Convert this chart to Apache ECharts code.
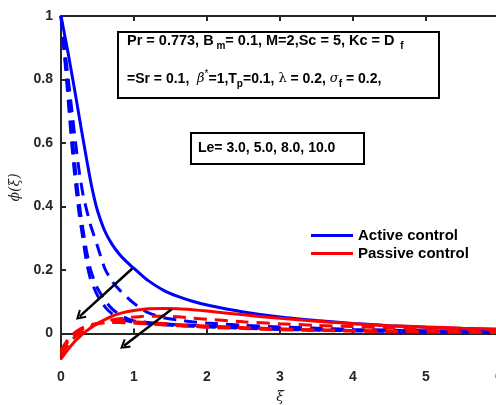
<!DOCTYPE html>
<html>
<head>
<meta charset="utf-8">
<script src="https://cdn.jsdelivr.net/npm/echarts@6.0.0/dist/echarts.min.js"></script>
<style>
  html, body { margin: 0; padding: 0; background: #fff; }
  #main { width: 496px; height: 405px; }
</style>
</head>
<body>
<div id="main"></div>
<script>
// eta grid shared by all curves
var xs = [0, 0.05, 0.1, 0.15, 0.2, 0.25, 0.3, 0.35, 0.4, 0.45, 0.5, 0.6, 0.7, 0.8, 0.9, 1.0, 1.1, 1.2, 1.4, 1.6, 1.8, 2.0, 2.5, 3.0, 3.5, 4.0, 4.5, 5.0, 5.5, 6.0];

// active control, Le = 3 (solid), 5, 8, 10 (dashed)
var activeLe3  = [1, 0.94, 0.88, 0.815, 0.75, 0.682, 0.615, 0.55, 0.487, 0.432, 0.387, 0.323, 0.281, 0.25, 0.226, 0.205, 0.185, 0.166, 0.137, 0.117, 0.102, 0.09, 0.068, 0.052, 0.041, 0.032, 0.025, 0.02, 0.016, 0.013];
var activeLe5  = [1, 0.9, 0.8, 0.7, 0.6, 0.51, 0.44, 0.39, 0.345, 0.31, 0.275, 0.205, 0.165, 0.138, 0.115, 0.095, 0.078, 0.065, 0.05, 0.043, 0.037, 0.033, 0.026, 0.021, 0.017, 0.013, 0.011, 0.009, 0.007, 0.006];
var activeLe8  = [1, 0.88, 0.76, 0.63, 0.51, 0.41, 0.33, 0.26, 0.205, 0.17, 0.143, 0.105, 0.078, 0.06, 0.048, 0.04, 0.037, 0.035, 0.031, 0.028, 0.026, 0.024, 0.019, 0.015, 0.012, 0.01, 0.008, 0.006, 0.005, 0.004];
var activeLe10 = [1, 0.87, 0.73, 0.59, 0.47, 0.375, 0.3, 0.225, 0.175, 0.145, 0.12, 0.085, 0.062, 0.048, 0.04, 0.035, 0.033, 0.031, 0.028, 0.025, 0.023, 0.021, 0.017, 0.013, 0.011, 0.009, 0.007, 0.005, 0.004, 0.003];

// passive control
var passiveLe3  = [-0.08, -0.064, -0.049, -0.035, -0.022, -0.011, 0.0, 0.009, 0.017, 0.025, 0.032, 0.044, 0.055, 0.063, 0.069, 0.073, 0.076, 0.078, 0.079, 0.078, 0.075, 0.071, 0.059, 0.048, 0.039, 0.031, 0.025, 0.021, 0.017, 0.014];
var passiveLe5  = [-0.07, -0.05, -0.034, -0.02, -0.009, 0.0, 0.008, 0.015, 0.021, 0.026, 0.031, 0.038, 0.043, 0.047, 0.05, 0.052, 0.054, 0.055, 0.055, 0.053, 0.049, 0.045, 0.037, 0.031, 0.026, 0.022, 0.018, 0.015, 0.013, 0.011];
var passiveLe8  = [-0.06, -0.04, -0.024, -0.011, 0.0, 0.008, 0.015, 0.02, 0.025, 0.028, 0.031, 0.035, 0.037, 0.038, 0.038, 0.037, 0.036, 0.035, 0.032, 0.029, 0.026, 0.024, 0.019, 0.015, 0.012, 0.01, 0.008, 0.006, 0.005, 0.004];
var passiveLe10 = [-0.055, -0.034, -0.017, -0.005, 0.005, 0.013, 0.019, 0.024, 0.027, 0.03, 0.032, 0.034, 0.035, 0.035, 0.034, 0.033, 0.032, 0.03, 0.028, 0.025, 0.023, 0.02, 0.016, 0.012, 0.01, 0.008, 0.006, 0.005, 0.004, 0.003];

var xTicks = [0, 1, 2, 3, 4, 5, 6];
var yTicks = [0, 0.2, 0.4, 0.6, 0.8, 1];

// arrows (data coords): start -> end
var arrow1 = [[0.977, 0.205], [0.256, 0.054]];
var arrow2 = [[1.516, 0.077], [0.863, -0.038]];

var FONT = 'Liberation Sans';
var AX = '#262626';
var DASH = [13, 8];

function mk(name, vals, color, dashed) {
  return {
    type: 'line',
    name: name,
    data: xs.map(function (x, i) { return [x, vals[i]]; }),
    symbol: 'none',
    showSymbol: false,
    smooth: 0.25,
    lineStyle: { color: color, width: 3, type: dashed ? DASH : 'solid' },
    itemStyle: { color: color },
    emphasis: { disabled: true }
  };
}

var chevron = 'path://M50,0 L100,85 L84,95 L50,36 L16,95 L0,85 Z';

var series = [
  mk('Active control', activeLe3, '#0000ff', false),
  mk('Active Le=5', activeLe5, '#0000ff', true),
  mk('Active Le=8', activeLe8, '#0000ff', true),
  mk('Active Le=10', activeLe10, '#0000ff', true),
  mk('Passive control', passiveLe3, '#ff0000', false),
  mk('Passive Le=5', passiveLe5, '#ff0000', true),
  mk('Passive Le=8', passiveLe8, '#ff0000', true),
  mk('Passive Le=10', passiveLe10, '#ff0000', true)
];
series[7].markLine = {
  silent: true,
  animation: false,
  symbol: ['none', chevron],
  symbolSize: [11, 10],
  label: { show: false },
  lineStyle: { color: '#000', width: 2.5, type: 'solid' },
  data: [
    [{ coord: arrow1[0] }, { coord: arrow1[1] }],
    [{ coord: arrow2[0] }, { coord: arrow2[1] }]
  ]
};

var chart = echarts.init(document.getElementById('main'));
chart.setOption({
  animation: false,
  backgroundColor: '#fff',
  grid: { left: 61, top: 16, width: 438, height: 343, containLabel: false, outerBoundsMode: 'none' },
  xAxis: [{
    type: 'value', min: 0, max: 6, interval: 1,
    name: 'ξ', nameLocation: 'middle', nameGap: 31,
    nameTextStyle: { fontFamily: 'DejaVu Serif', fontStyle: 'italic', fontSize: 14, color: AX },
    axisLine: { lineStyle: { color: AX, width: 2 } },
    axisTick: { inside: true, length: 5, lineStyle: { color: AX, width: 2 } },
    axisLabel: { margin: 11, fontFamily: FONT, fontWeight: 'bold', fontSize: 14, color: AX,
      customValues: xTicks },
    splitLine: { show: false }
  }, {
    type: 'value', min: 0, max: 6, interval: 1, position: 'top',
    axisLine: { lineStyle: { color: AX, width: 2 } },
    axisTick: { inside: true, length: 5, lineStyle: { color: AX, width: 2 } },
    axisLabel: { show: false },
    splitLine: { show: false }
  }],
  yAxis: {
    type: 'value', min: -0.08, max: 1,
    name: 'ϕ(ξ)', nameLocation: 'middle', nameGap: 30,
    nameTextStyle: { fontFamily: 'DejaVu Serif', fontStyle: 'italic', fontSize: 14, color: AX },
    axisLine: { onZero: false, lineStyle: { color: AX, width: 2 } },
    axisTick: { inside: true, length: 5, lineStyle: { color: AX, width: 2 }, customValues: yTicks },
    axisLabel: { margin: 8, fontFamily: FONT, fontWeight: 'bold', fontSize: 14, color: AX,
      customValues: yTicks },
    splitLine: { show: false }
  },
  legend: {
    data: [{ name: 'Active control', icon: 'rect' }, { name: 'Passive control', icon: 'rect' }],
    orient: 'vertical', left: 311, top: 228, padding: 0,
    itemWidth: 42, itemHeight: 3, itemGap: 3,
    selectedMode: false,
    textStyle: { fontFamily: FONT, fontWeight: 'bold', fontSize: 15, lineHeight: 15, color: '#000' }
  },
  graphic: [
    { type: 'rect', z: 100, shape: { x: 118, y: 32, width: 321, height: 66 },
      style: { fill: '#fff', stroke: '#000', lineWidth: 2 } },
    { type: 'text', z: 101, x: 127, y: 31,
      style: {
        text: '{b|Pr = 0.773, B}{s| m}{b|= 0.1, M=2,Sc = 5, Kc = D}{s|  f}',
        verticalAlign: 'top',
        rich: {
          b: { fontFamily: FONT, fontWeight: 'bold', fontSize: 14.5, lineHeight: 20, fill: '#000' },
          s: { fontFamily: FONT, fontWeight: 'bold', fontSize: 10, lineHeight: 8, verticalAlign: 'bottom', fill: '#000' }
        }
      } },
    { type: 'text', z: 101, x: 127, y: 69,
      style: {
        text: '{b|=Sr = 0.1,  }{g|β}{p|*}{b|=1,T}{s|p}{b|=0.1, }{l|λ}{b| = 0.2, }{g|σ}{s|f}{b| = 0.2,}',
        verticalAlign: 'top',
        rich: {
          b: { fontFamily: FONT, fontWeight: 'bold', fontSize: 14, lineHeight: 20, fill: '#000' },
          s: { fontFamily: FONT, fontWeight: 'bold', fontSize: 10, lineHeight: 8, verticalAlign: 'bottom', fill: '#000' },
          p: { fontFamily: FONT, fontSize: 10, lineHeight: 14, verticalAlign: 'top', fill: '#000' },
          g: { fontFamily: 'DejaVu Serif', fontStyle: 'italic', fontSize: 13, lineHeight: 20, fill: '#000' },
          l: { fontFamily: 'DejaVu Serif', fontSize: 13, lineHeight: 20, fill: '#000' }
        }
      } },
    { type: 'rect', z: 100, shape: { x: 191, y: 133, width: 173, height: 31 },
      style: { fill: '#fff', stroke: '#000', lineWidth: 2 } },
    { type: 'text', z: 101, x: 198, y: 138,
      style: {
        text: 'Le= 3.0, 5.0, 8.0, 10.0',
        verticalAlign: 'top',
        fontFamily: FONT, fontWeight: 'bold', fontSize: 14, lineHeight: 20, fill: '#000'
      } }
  ],
  series: series
});
</script>
</body>
</html>
